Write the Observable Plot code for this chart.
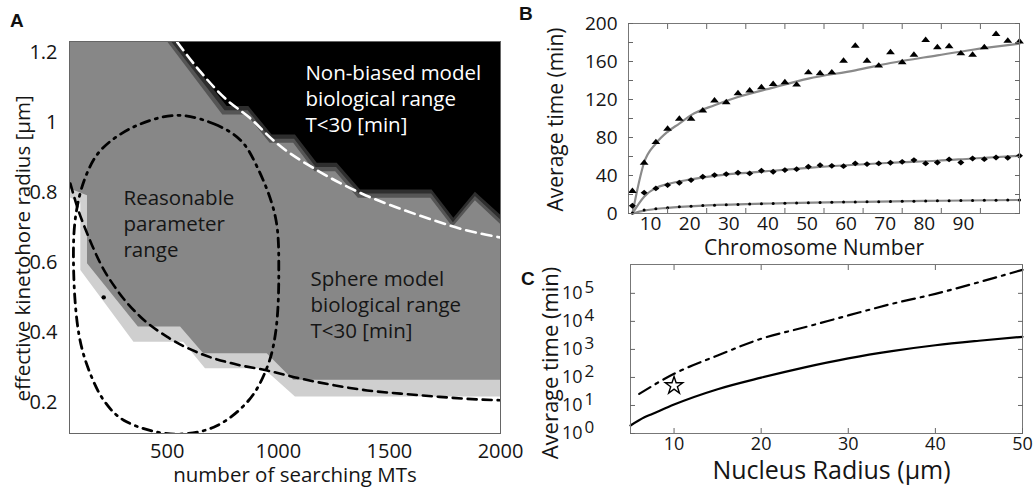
<!DOCTYPE html>
<html><head><meta charset="utf-8">
<script src="https://cdn.jsdelivr.net/npm/d3@7"></script>
<script src="https://cdn.jsdelivr.net/npm/@observablehq/plot@0.6"></script>
<style>
body{margin:0;background:#fff;}
#fig{position:relative;width:1035px;height:487px;overflow:hidden;background:#fff;}
#fig svg{position:absolute;overflow:visible;}
.letter{position:absolute;font:bold 19px "Liberation Sans",Arial,sans-serif;color:#111;}
</style></head><body>
<div id="fig">
  <div class="letter" style="left:10px;top:10px">A</div>
  <div class="letter" style="left:519px;top:3px">B</div>
  <div class="letter" style="left:521px;top:268px">C</div>
</div>
<script>
// ---------- Panel A data ----------
const aXTicks = [500, 1000, 1500, 2000];
const aYTicks = [0.2, 0.4, 0.6, 0.8, 1, 1.2];
const aYTickLabels = ["0.2", "0.4", "0.6", "0.8", "1", "1.2"];
const aXDomain = [60, 2000];
const aYDomain = [0.111, 1.231];
const aLightX = [60, 111, 111, 350, 574, 672, 935, 1077, 2000];
const aLightY = [0.785, 0.77, 0.577, 0.372, 0.372, 0.296, 0.296, 0.215, 0.215];
const aMidX = [60, 141, 141, 370, 560, 664, 950, 1069, 2000];
const aMidY = [0.81, 0.79, 0.596, 0.415, 0.415, 0.339, 0.339, 0.263, 0.263];
const aBand1X = [500, 750, 860, 963, 1069, 1165, 1258, 1360, 1686, 1786, 1887, 2000];
const aBand1Y = [1.231, 1.021, 1.021, 0.94, 0.94, 0.859, 0.859, 0.783, 0.783, 0.70, 0.776, 0.709];
const aBand2X = [518, 760, 864, 968, 1073, 1170, 1262, 1365, 1690, 1788, 1887, 2000];
const aBand2Y = [1.231, 1.033, 1.033, 0.952, 0.952, 0.871, 0.871, 0.795, 0.795, 0.713, 0.788, 0.722];
const aBlackX = [537, 770, 867, 972, 1077, 1175, 1265, 1370, 1692, 1790, 1887, 2000];
const aBlackY = [1.231, 1.045, 1.045, 0.964, 0.964, 0.883, 0.883, 0.807, 0.807, 0.726, 0.80, 0.735];
const aWhiteDashX = [545, 650, 770, 867, 995, 1175, 1377, 1550, 1700, 1850, 2000];
const aWhiteDashY = [1.229, 1.144, 1.063, 1.015, 0.939, 0.863, 0.796, 0.753, 0.72, 0.691, 0.671];
const aBlackDashX = [64, 95, 140, 200, 275, 380, 500, 650, 800, 950, 1100, 1250, 1400, 1550, 1700, 1850, 2000];
const aBlackDashY = [0.825, 0.758, 0.682, 0.596, 0.52, 0.444, 0.387, 0.339, 0.31, 0.291, 0.268, 0.249, 0.234, 0.225, 0.217, 0.21, 0.206];
const aEllipseX = [542, 709, 830, 905, 987, 1002, 987, 950, 867, 709, 514, 304, 214, 142, 102, 79, 87, 132, 200, 349];
const aEllipseY = [1.02, 0.996, 0.949, 0.872, 0.729, 0.568, 0.396, 0.301, 0.206, 0.129, 0.11, 0.149, 0.206, 0.301, 0.396, 0.568, 0.729, 0.844, 0.92, 0.987];
const aPointX = [214];
const aPointY = [0.50];
const aNotes = ["Non-biased model\nbiological range\nT<30 [min]", "Reasonable\nparameter\nrange", "Sphere model\nbiological range\nT<30 [min]"];
const aNoteX = [1122, 303, 1145];
const aNoteY = [1.071, 0.714, 0.483];
const aNoteColor = ["#ffffff", "#151515", "#151515"];

// ---------- Panel B data ----------
const bX = [1, 4, 7, 10, 13, 16, 19, 22, 25, 28, 31, 34, 37, 40, 43, 46, 49, 52, 55, 58, 61, 64, 67, 70, 73, 76, 79, 82, 85, 88, 91, 94, 97, 100];
const bTriangle = [24, 53.7, 75.5, 89.5, 100, 100, 108.7, 119.2, 117.5, 127, 129.8, 133.3, 136.7, 138.5, 136, 148.9, 147.9, 148.9, 161.2, 177, 161.2, 156, 170, 159.5, 167.5, 183, 175.3, 176.3, 168.9, 167.5, 175.3, 189.3, 182.2, 181.5];
const bDiamond = [8.2, 21.9, 26.4, 29.9, 32.4, 35.2, 38.7, 40.4, 41.5, 42.9, 42.2, 45, 43.9, 45.7, 46.7, 49.2, 50.9, 50.2, 49.8, 52.7, 52, 52.7, 53.4, 54.4, 56.2, 52.7, 53.7, 56.9, 53.7, 57.9, 57.2, 59, 58.6, 60.8];
const bDot = [0.5, 3.7, 5, 6, 7, 7.7, 8.3, 8.8, 9.2, 9.6, 10, 10.3, 10.6, 10.9, 11.1, 11.4, 11.6, 11.8, 12, 12.2, 12.4, 12.5, 12.7, 12.9, 13, 13.2, 13.3, 13.5, 13.6, 13.7, 13.9, 14, 14.1, 14.2];
const bFitTopX = [1, 4, 7, 10, 13, 16, 22, 28, 37, 46, 58, 67, 79, 88, 100];
const bFitTopY = [0, 53.7, 73.7, 86, 94.7, 103.5, 114, 122.7, 132.5, 142, 150.7, 158.4, 166.5, 172.4, 178.7];
const bFitMidX = [1, 4, 7, 10, 16, 22, 28, 37, 46, 58, 67, 79, 88, 100];
const bFitMidY = [0, 17.7, 27, 31, 35.9, 39.7, 42.2, 45, 48.1, 51.3, 53.4, 55.5, 57.9, 60.8];
const bFitLowX = [1, 4, 10, 20, 40, 60, 80, 100];
const bFitLowY = [0, 3, 6, 8.5, 10.9, 12.3, 13.4, 14.2];
const bXTicks = [10, 20, 30, 40, 50, 60, 70, 80, 90];
const bYTicks = [0, 20, 40, 60, 80, 100, 120, 140, 160, 180, 200];
const bYLabelTicks = [0, 40, 80, 120, 160, 200];

// ---------- Panel C data ----------
const cSolidX = [5, 6.6, 7.5, 10, 15, 20, 25, 30, 35, 40, 45, 50];
const cSolidY = [1.93, 3.8, 5, 10.8, 38, 98, 229, 479, 871, 1410, 2040, 2820];
const cDashX = [6, 10, 15, 20, 25, 30, 35, 40, 45, 50];
const cDashY = [26, 135, 606, 2400, 6160, 16300, 42200, 96000, 250000, 690000];
const cStarX = [10];
const cStarY = [51];
const cXTicks = [10, 20, 30, 40, 50];
const cYTicks = [1, 10, 100, 1000, 10000, 100000];
const cYExponents = ["0", "1", "2", "3", "4", "5"];

// ---------- helpers ----------
const zip = (xs, ys) => xs.map((x, i) => ({x, y: ys[i]}));
const font = "Open Sans";
const boxTicks = (xt, yt, color) => [
  Plot.axisX(xt, {anchor: "bottom", tickSize: 5, dy: -5, fill: "none", stroke: color, label: null}),
  Plot.axisX(xt, {anchor: "top", tickSize: 5, dy: 5, fill: "none", stroke: color, label: null}),
  Plot.axisY(yt, {anchor: "left", tickSize: 5, dx: 5, fill: "none", stroke: color, label: null}),
  Plot.axisY(yt, {anchor: "right", tickSize: 5, dx: -5, fill: "none", stroke: color, label: null})
];
const flatTriangle = {draw(ctx, size) { const r = Math.sqrt(size / Math.PI); ctx.moveTo(0, -0.75 * r); ctx.lineTo(1.05 * r, 0.55 * r); ctx.lineTo(-1.05 * r, 0.55 * r); ctx.closePath(); }};
const flatDiamond = {draw(ctx, size) { const r = Math.sqrt(size / Math.PI); ctx.moveTo(-0.9 * r, 0); ctx.lineTo(0, -0.75 * r); ctx.lineTo(0.9 * r, 0); ctx.lineTo(0, 0.75 * r); ctx.closePath(); }};

const fig = document.getElementById("fig");
function place(svg, left, topPx) { svg.style.left = left + "px"; svg.style.top = topPx + "px"; fig.appendChild(svg); }

// ---------- Panel A ----------
const aTop = aYDomain[1];
const plotA = Plot.plot({
  width: 520, height: 487,
  marginLeft: 69, marginRight: 20, marginTop: 41, marginBottom: 54,
  x: {domain: aXDomain},
  y: {domain: aYDomain},
  style: {fontFamily: font, fontSize: "20px", color: "#151515", background: "transparent"},
  marks: [
    Plot.areaY(zip(aLightX, aLightY), {x: "x", y1: "y", y2: () => aTop, fill: "#cfcfcf"}),
    Plot.areaY(zip(aMidX, aMidY), {x: "x", y1: "y", y2: () => aTop, fill: "#878787"}),
    Plot.areaY(zip(aBand1X, aBand1Y), {x: "x", y1: "y", y2: () => aTop, fill: "#555555"}),
    Plot.areaY(zip(aBand2X, aBand2Y), {x: "x", y1: "y", y2: () => aTop, fill: "#2e2e2e"}),
    Plot.areaY(zip(aBlackX, aBlackY), {x: "x", y1: "y", y2: () => aTop, fill: "#000000"}),
    Plot.line(zip(aBlackDashX, aBlackDashY), {x: "x", y: "y", stroke: "#000", strokeWidth: 2.6, strokeDasharray: "9,6", curve: "monotone-x", clip: true}),
    Plot.line(zip(aWhiteDashX, aWhiteDashY), {x: "x", y: "y", stroke: "#fff", strokeWidth: 2.6, strokeDasharray: "10,6", curve: "monotone-x", clip: true}),
    Plot.line(zip(aEllipseX, aEllipseY), {x: "x", y: "y", stroke: "#000", strokeWidth: 2.8, strokeDasharray: "9,6,2,6", curve: "catmull-rom-closed", clip: true}),
    Plot.dot(zip(aPointX, aPointY), {x: "x", y: "y", r: 2.2, fill: "#000"}),
    Plot.text(aNotes, {x: (d, i) => aNoteX[i], y: (d, i) => aNoteY[i], text: d => d, fill: (d, i) => aNoteColor[i], textAnchor: "start", lineAnchor: "middle", lineHeight: 1.27, fontSize: 20.5}),
    Plot.frame({stroke: "#666"}),
    Plot.axisX(aXTicks, {anchor: "bottom", tickSize: 0, tickPadding: 10, label: null, tickFormat: d => String(d)}),
    Plot.axisY(aYTicks, {anchor: "left", tickSize: 0, tickPadding: 12, label: null, tickFormat: (d, i) => aYTickLabels[i]}),
    Plot.text(["number of searching MTs"], {frameAnchor: "bottom", text: d => d, textAnchor: "middle", lineAnchor: "middle", dx: 10, dy: 42, fontSize: 20.5}),
    Plot.text(["effective kinetohore radius [\u00b5m]"], {frameAnchor: "left", text: d => d, textAnchor: "middle", lineAnchor: "middle", rotate: -90, dx: -46, dy: 11, fontSize: 20.5})
  ]
});
place(plotA, 0, 0);

// ---------- Panel B ----------
const plotB = Plot.plot({
  width: 515, height: 255,
  marginLeft: 108, marginRight: 16, marginTop: 23, marginBottom: 42,
  x: {domain: [0, 100]},
  y: {domain: [0, 200]},
  style: {fontFamily: font, fontSize: "19px", color: "#151515", background: "transparent"},
  marks: [
    Plot.line(zip(bFitLowX, bFitLowY), {x: "x", y: "y", stroke: "#8a8a8a", strokeWidth: 2.2, curve: "monotone-x"}),
    Plot.line(zip(bFitMidX, bFitMidY), {x: "x", y: "y", stroke: "#8a8a8a", strokeWidth: 2.2, curve: "monotone-x"}),
    Plot.line(zip(bFitTopX, bFitTopY), {x: "x", y: "y", stroke: "#8a8a8a", strokeWidth: 2.2, curve: "monotone-x"}),
    Plot.dot(zip(bX, bDot), {x: "x", y: "y", r: 1.5, fill: "#000"}),
    Plot.dot(zip(bX, bDiamond), {x: "x", y: "y", r: 3.9, fill: "#000", symbol: flatDiamond}),
    Plot.dot(zip(bX, bTriangle), {x: "x", y: "y", r: 4.2, fill: "#000", symbol: flatTriangle}),
    Plot.frame({stroke: "#777"}),
    ...boxTicks(bXTicks, bYTicks, "#666"),
    Plot.axisY(bYLabelTicks, {anchor: "left", tickSize: 0, tickPadding: 11, label: null}),
    Plot.axisX(bXTicks, {anchor: "bottom", tickSize: 0, tickPadding: 3, dx: -17, label: null}),
    Plot.text(["Average time (min)"], {frameAnchor: "left", text: d => d, textAnchor: "middle", lineAnchor: "middle", rotate: -90, dx: -72, dy: 1, fontSize: 21}),
    Plot.text(["Chromosome Number"], {frameAnchor: "bottom", text: d => d, textAnchor: "middle", lineAnchor: "middle", dx: -10, dy: 35, fontSize: 21})
  ]
});
place(plotB, 520, 0);

// ---------- Panel C ----------
const plotC = Plot.plot({
  width: 515, height: 232,
  marginLeft: 110, marginRight: 13, marginTop: 9, marginBottom: 54,
  x: {domain: [5, 50]},
  y: {type: "log", domain: [1, 1.07e6]},
  style: {fontFamily: font, fontSize: "18px", color: "#151515", background: "transparent"},
  marks: [
    Plot.line(zip(cSolidX, cSolidY), {x: "x", y: "y", stroke: "#000", strokeWidth: 2.2, curve: "monotone-x"}),
    Plot.line(zip(cDashX, cDashY), {x: "x", y: "y", stroke: "#000", strokeWidth: 2.2, strokeDasharray: "13,6,3,6", curve: "monotone-x"}),
    Plot.dot(zip(cStarX, cStarY), {x: "x", y: "y", r: 5.5, symbol: "star", stroke: "#000", strokeWidth: 1.4, fill: "none"}),
    Plot.frame({stroke: "#777"}),
    ...boxTicks(cXTicks, cYTicks, "#666"),
    Plot.axisY(cYTicks, {anchor: "left", tickSize: 0, tickPadding: 48, label: null, tickFormat: () => "10", fontSize: 18}),
    Plot.text(cYTicks, {frameAnchor: "left", y: d => d, text: (d, i) => cYExponents[i], dx: -46, dy: -6, textAnchor: "start", lineAnchor: "middle", fontSize: 17}),
    Plot.axisX(cXTicks, {anchor: "bottom", tickSize: 0, tickPadding: 4, label: null}),
    Plot.text(["Average time (min)"], {frameAnchor: "left", text: d => d, textAnchor: "middle", lineAnchor: "middle", rotate: -90, dx: -80, dy: 14, fontSize: 22}),
    Plot.text(["Nucleus Radius (\u00b5m)"], {frameAnchor: "bottom", text: d => d, textAnchor: "middle", lineAnchor: "middle", dx: 5, dy: 37, fontSize: 25})
  ]
});
place(plotC, 520, 255);
</script>
</body></html>
